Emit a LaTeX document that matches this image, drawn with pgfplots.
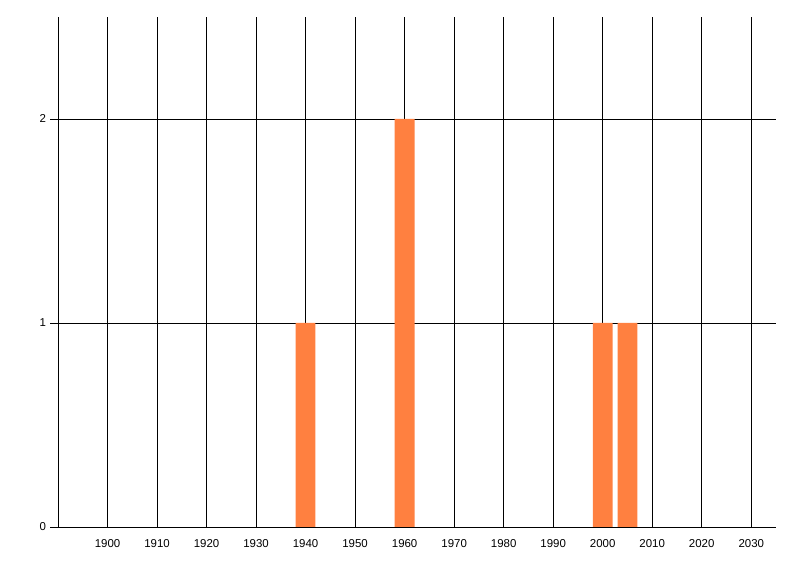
\documentclass[border=0pt]{standalone}
\usepackage{fontspec}
\setmainfont{Liberation Sans}
\usepackage{pgfplots}
\pgfplotsset{compat=1.18}
\definecolor{barorange}{RGB}{255,128,64}

\begin{document}
\begin{tikzpicture}[x=1bp,y=1bp]
  \useasboundingbox (0,0) rectangle (800,576);
  \begin{axis}[
      at={(58bp,49bp)}, anchor=south west,
      width=718bp, height=510bp, scale only axis,
      xmin=1890, xmax=2035, ymin=0, ymax=2.5,
      axis x line*=bottom, axis y line*=left,
      axis line style={black, line width=0.8pt, -},
      xtick={1900,1910,...,2030},
      ytick={0,1,2},
      xmajorgrids, ymajorgrids,
      major grid style={black, line width=0.8pt},
      xtick style={draw=none},
      ytick style={black, line width=0.8pt},
      ytick align=outside, major tick length=8bp,
      /pgf/number format/assume math mode=true,
      /pgf/number format/1000 sep={},
      tick label style={font=\fontsize{11.5}{13}\selectfont},
      yticklabel style={xshift=-0.5bp},
      xticklabel style={yshift=-0.5bp},
      ybar, bar width=4,
    ]
    \addplot[fill=barorange, draw=none] coordinates {
      (1940,1) (1960,2) (2000,1) (2005,1)
    };
  \end{axis}
\end{tikzpicture}
\end{document}
